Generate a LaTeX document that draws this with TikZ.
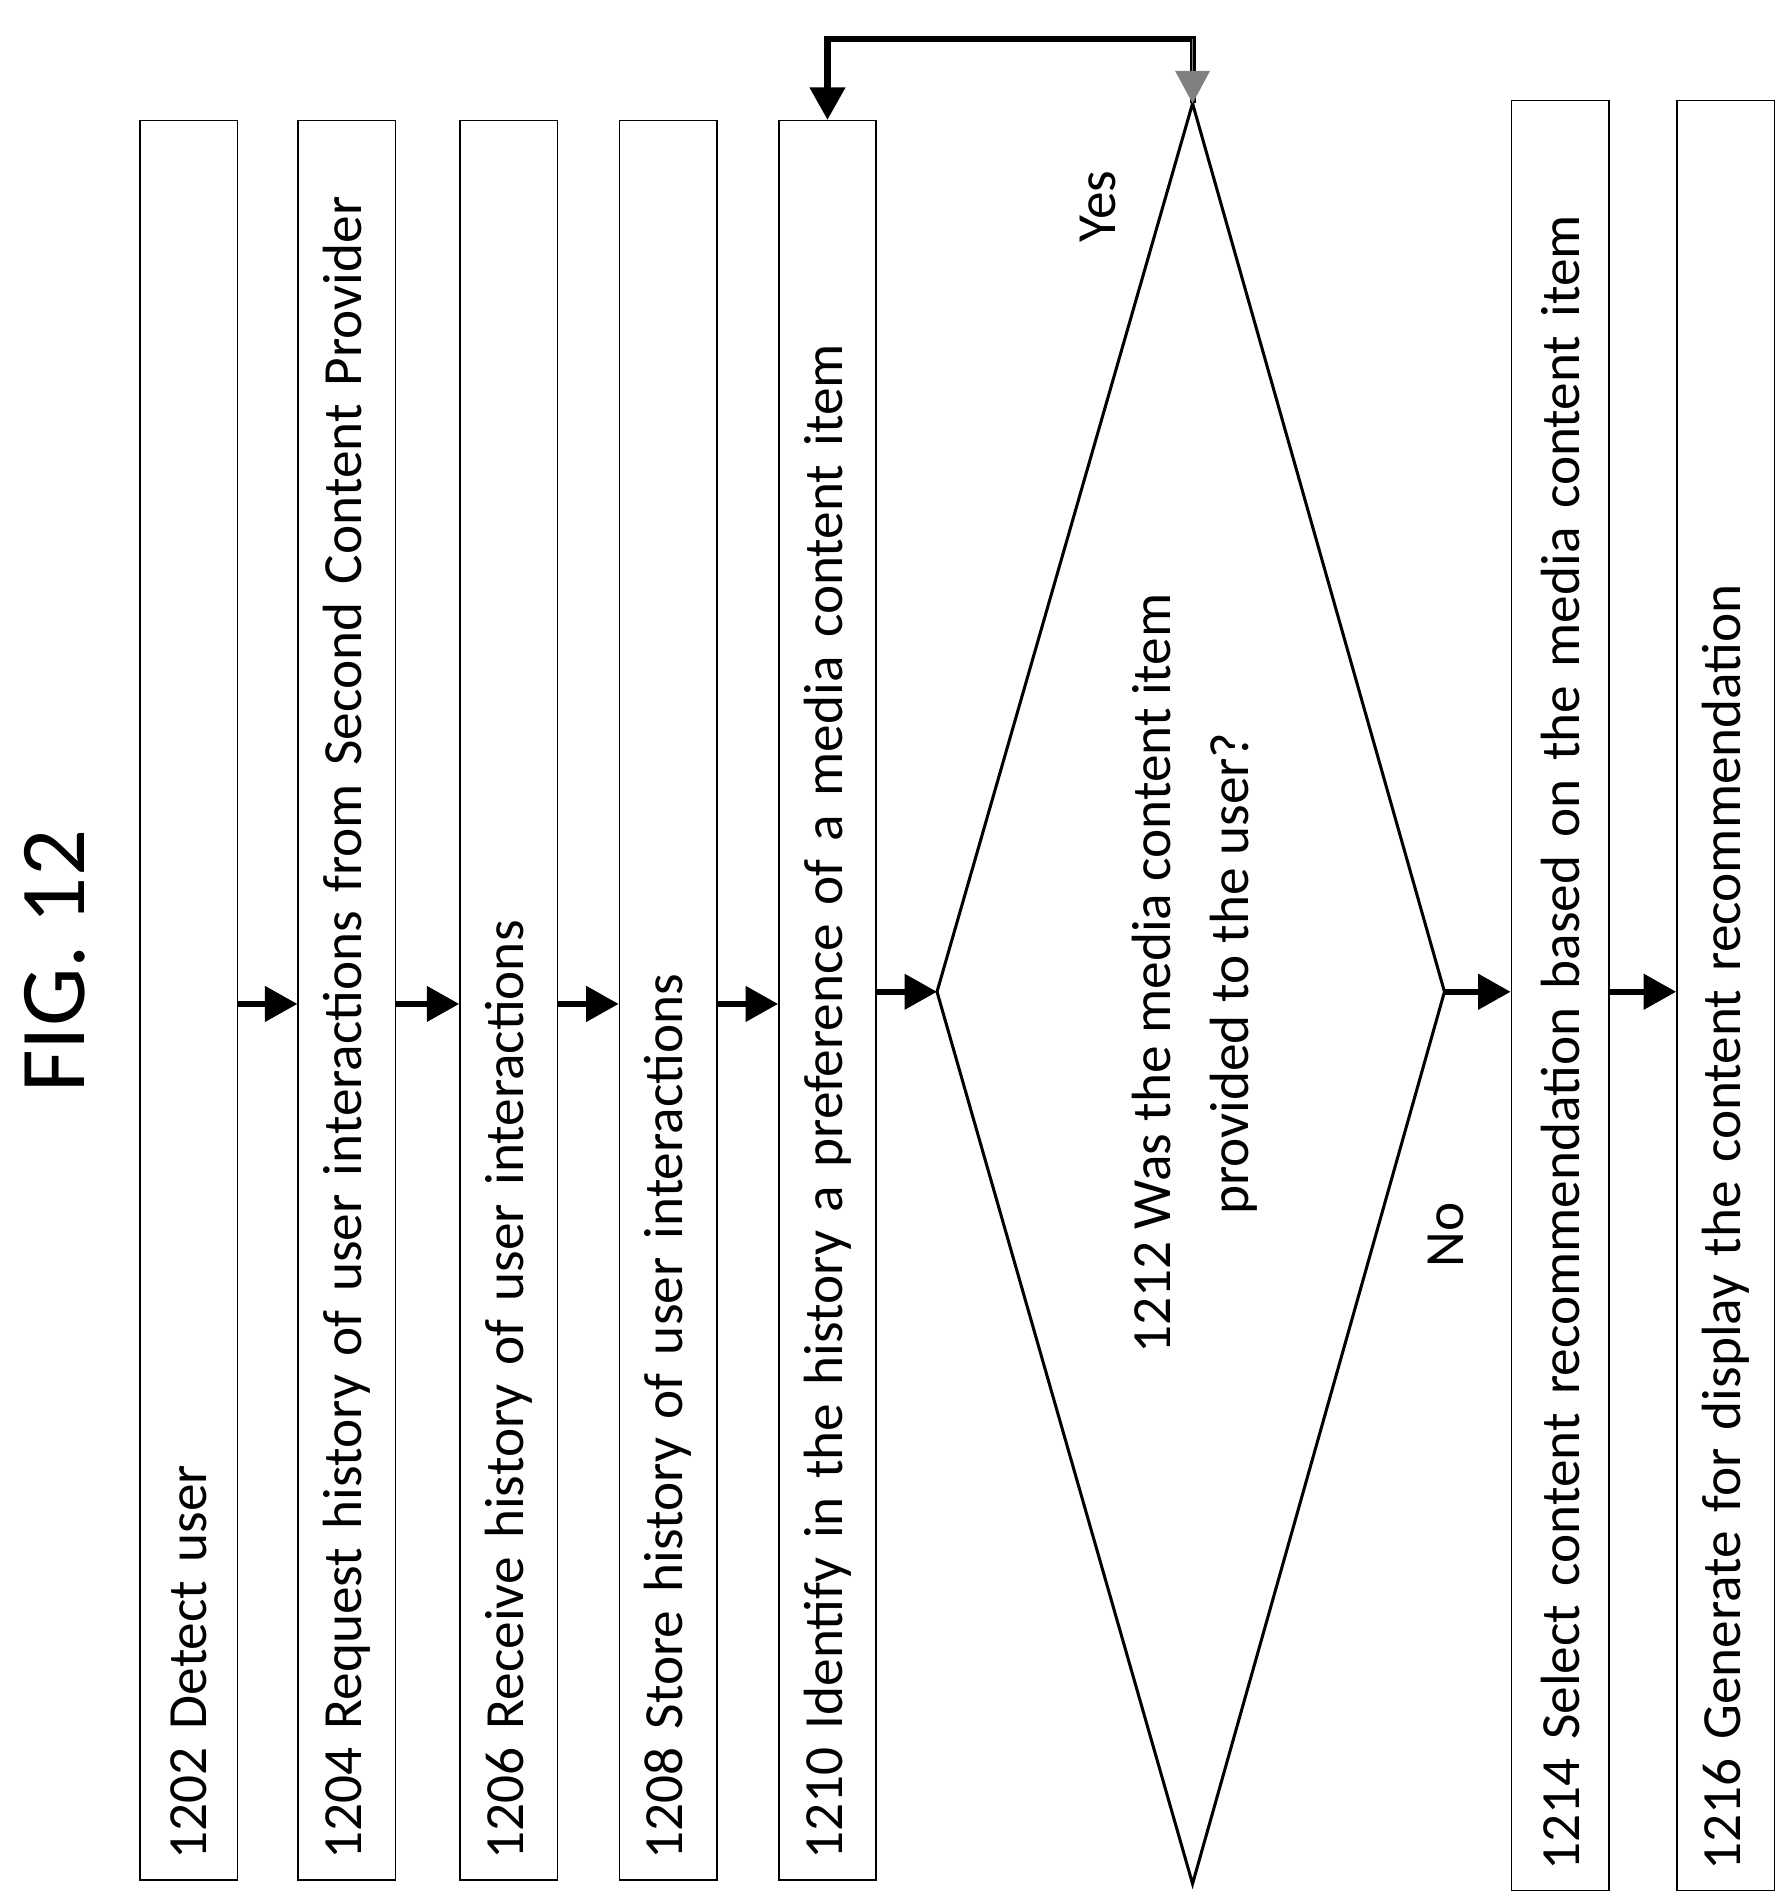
\documentclass[tikz,border=0pt]{standalone}
\usepackage{fontspec}
\setmainfont{Carlito}
\usetikzlibrary{arrows.meta}

\tikzset{
	step/.style = {draw, rotate=90, minimum height=0.96cm, inner sep=0.2cm,
		text width=#1, align=left, font=\fontsize{15.5}{19}\selectfont},
	arr/.style = {line width=0.6mm, -{Triangle[length=3.2mm,width=3.4mm]}}
}

\begin{document}
\begin{tikzpicture}[x=0.012cm,y=-0.012cm]
	
	\useasboundingbox (0,0) rectangle (1470,1563);
	
	\node[rotate=90, font=\fontsize{26}{30}\selectfont] (fig) at (45,790) {FIG. 12};
	
	\node[step=16.94cm, minimum width=17.34cm] (s1202) at (155,822) {1202 Detect user};
	\node[step=16.94cm, minimum width=17.34cm] (s1204) at (285,822) {1204 Request history of user interactions from Second Content Provider};
	\node[step=16.94cm, minimum width=17.34cm] (s1206) at (418,822) {1206 Receive history of user interactions};
	\node[step=16.94cm, minimum width=17.34cm] (s1208) at (549,822) {1208 Store history of user interactions};
	\node[step=16.94cm, minimum width=17.34cm] (s1210) at (680,822) {1210 Identify in the history a preference of a media content item};
	
	% decision diamond
	\coordinate (dT) at (980,85);
	\coordinate (dB) at (980,1548);
	\coordinate (dL) at (770,815);
	\coordinate (dR) at (1187,815);
	\draw[line width=0.3mm] (dT) -- (dR) -- (dB) -- (dL) -- cycle;
	\node[rotate=90, align=center, font=\fontsize{15.5}{22}\selectfont] (d1212) at (982,800)
		{1212 Was the media content item\\provided to the user?};
	
	\node[step=17.24cm, minimum width=17.64cm] (s1214) at (1282,818) {1214 Select content recommendation based on the media content item};
	\node[step=17.24cm, minimum width=17.64cm] (s1216) at (1418,818) {1216 Generate for display the content recommendation};
	
	\coordinate (row) at (0,825);
	
	\draw[arr] (s1202.south |- row) -- (s1204.north |- row);
	\draw[arr] (s1204.south |- row) -- (s1206.north |- row);
	\draw[arr] (s1206.south |- row) -- (s1208.north |- row);
	\draw[arr] (s1208.south |- row) -- (s1210.north |- row);
	\draw[arr] (s1210.south |- dL) -- (dL);
	\draw[arr] (dR) -- (s1214.north |- dR);
	\draw[arr] (s1214.south |- dR) -- (s1216.north |- dR);
	
	% loop back on yes
	\coordinate (top) at (980,32);
	\draw[arr] (dT) -- (top) -| (s1210.east);
	\draw[gray, -{Triangle[length=3.2mm,width=3.4mm]}] (top) -- (dT);
	
	\node[rotate=90, font=\fontsize{15.5}{19}\selectfont] (yes) at (902,170) {Yes};
	\node[rotate=90, font=\fontsize{15.5}{19}\selectfont] (no) at (1188,1015) {No};
	
\end{tikzpicture}
\end{document}
